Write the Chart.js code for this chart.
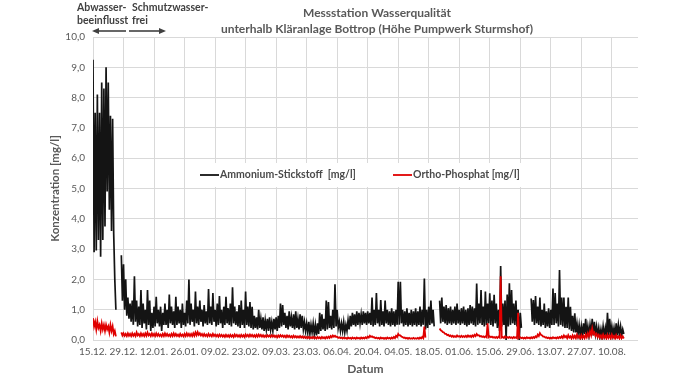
<!DOCTYPE html>
<html><head><meta charset="utf-8">
<script src="https://cdn.jsdelivr.net/npm/chart.js@4/dist/chart.umd.min.js"></script>
<style>html,body{margin:0;padding:0;background:#fff;}#wrap{width:678px;height:381px;}</style>
</head><body><div id="wrap"><canvas id="c" width="678" height="381"></canvas></div>
<script>
// ---- DATA (days counted from 15.12.; one max and one min reading per day) ----
const titleLines = ['Messstation Wasserqualität', 'unterhalb Kläranlage Bottrop (Höhe Pumpwerk Sturmshof)'];
const noteLeft = ['Abwasser-', 'beeinflusst'];
const noteRight = ['Schmutzwasser-', 'frei'];
const xTickLabels = ['15.12.','29.12.','12.01.','26.01.','09.02.','23.02.','09.03.','23.03.','06.04.','20.04.','04.05.','18.05.','01.06.','15.06.','29.06.','13.07.','27.07.','10.08.'];
const yTickValues = [0,1,2,3,4,5,6,7,8,9,10];
const seriesNames = ['Ammonium-Stickstoff  [mg/l]', 'Ortho-Phosphat [mg/l]'];

const nh4Max = [
9.25,7.5,8.1,7.5,8.5,8.3,9.0,8.5,7.4,7.3,
2.0,null,null,2.8,2.5,2.0,1.4,1.2,1.3,2.1,
1.3,1.1,1.65,1.2,1.0,1.65,1.3,0.9,1.1,1.43,
1.0,1.1,0.9,1.2,1.0,1.5,1.1,0.95,1.43,1.1,
1.0,1.2,0.9,1.3,2.0,1.2,1.0,1.6,1.1,1.3,
1.0,1.15,0.95,1.68,1.1,1.55,1.0,1.2,1.45,1.0,
1.1,1.43,1.05,1.2,1.74,1.1,0.95,1.15,1.3,1.0,
1.6,1.1,1.25,1.1,0.8,0.75,1.0,0.7,0.75,0.65,
0.7,0.75,0.6,0.7,0.75,0.8,1.2,1.15,0.9,0.8,
0.95,0.75,0.85,0.95,0.7,0.85,0.8,0.6,0.55,0.6,
0.5,0.55,0.5,0.55,0.9,0.85,0.7,1.3,1.25,0.8,
1.0,1.84,1.0,0.6,0.55,0.6,0.5,0.65,0.8,0.9,
0.85,0.95,0.9,0.85,0.95,0.9,0.95,0.9,1.4,1.0,
1.55,1.0,1.32,0.95,1.3,1.0,0.95,1.05,0.95,1.0,
1.92,1.92,1.0,0.95,1.05,0.9,1.0,0.95,1.05,0.95,
1.1,1.0,2.03,1.0,1.1,1.3,1.0,null,null,1.3,
1.4,1.1,1.15,1.05,1.1,1.0,1.1,1.2,1.0,1.05,
1.1,1.0,1.05,1.15,1.1,1.05,1.86,1.2,1.65,1.1,
1.6,1.2,1.54,1.3,1.49,1.2,1.0,2.44,1.2,1.3,
1.5,1.87,1.65,1.2,1.3,1.0,0.9,null,null,null,
null,1.37,1.32,1.45,1.1,1.4,1.0,1.2,0.95,1.05,
1.0,1.7,1.55,1.2,2.31,1.4,1.4,1.1,1.4,1.1,
0.8,0.88,0.55,0.5,0.45,0.55,0.7,0.45,0.5,0.7,
0.6,0.45,0.4,0.35,0.45,0.4,0.9,0.7,0.45,0.4,
0.55,0.5,0.45,0.35];

const nh4Min = [
2.9,2.95,3.3,2.75,3.3,3.75,4.9,4.3,3.6,3.5,
1.0,null,null,1.3,1.0,0.8,0.7,0.6,0.5,0.6,
0.45,0.5,0.4,0.55,0.35,0.5,0.3,0.4,0.45,0.55,
0.45,0.3,0.5,0.5,0.4,0.55,0.5,0.4,0.5,0.55,
0.4,0.5,0.45,0.55,0.5,0.6,0.45,0.55,0.5,0.6,
0.45,0.55,0.5,0.55,0.5,0.6,0.45,0.5,0.55,0.4,
0.5,0.55,0.5,0.45,0.55,0.5,0.45,0.4,0.5,0.4,
0.5,0.45,0.4,0.35,0.4,0.35,0.4,0.35,0.3,0.35,
0.3,0.35,0.3,0.35,0.3,0.4,0.45,0.5,0.4,0.35,
0.45,0.4,0.35,0.4,0.35,0.4,0.35,0.3,0.25,0.2,
0.25,0.2,0.15,0.2,0.3,0.35,0.3,0.35,0.4,0.35,
0.4,0.45,0.4,0.3,0.3,0.25,0.3,0.35,0.45,0.5,
0.45,0.5,0.55,0.5,0.55,0.5,0.55,0.5,0.45,0.5,
0.55,0.45,0.5,0.45,0.55,0.5,0.45,0.5,0.45,0.5,
0.5,0.55,0.45,0.5,0.45,0.5,0.45,0.5,0.45,0.5,
0.45,0.5,0.35,0.4,0.5,0.55,0.45,null,null,0.55,
0.6,0.55,0.5,0.55,0.5,0.55,0.5,0.55,0.5,0.55,
0.5,0.45,0.5,0.55,0.5,0.45,0.5,0.55,0.5,0.45,
0.5,0.55,0.5,0.45,0.55,0.4,0.3,0.45,0.5,0.0,
0.45,0.5,0.55,0.5,0.45,0.0,0.4,null,null,null,
null,0.6,0.5,0.55,0.5,0.45,0.5,0.4,0.45,0.4,
0.5,0.5,0.55,0.45,0.5,0.45,0.4,0.4,0.35,0.3,
0.25,0.25,0.2,0.15,0.15,0.2,0.15,0.15,0.2,0.15,
0.2,0.15,0.1,0.1,0.15,0.1,0.15,0.2,0.15,0.1,
0.15,0.2,0.15,0.2];

const po4Max = [
0.72,0.6,0.62,0.5,0.55,0.5,0.5,0.45,0.5,0.45,
0.3,null,null,0.25,0.22,0.2,0.22,0.2,0.22,0.2,
0.25,0.2,0.22,0.2,0.22,0.25,0.2,0.22,0.2,0.22,
0.2,0.18,0.2,0.22,0.2,0.18,0.2,0.22,0.2,0.18,
0.2,0.18,0.2,0.22,0.2,0.2,0.22,0.25,0.26,0.22,
0.2,0.2,0.18,0.2,0.18,0.2,0.18,0.17,0.18,0.17,
0.16,0.17,0.16,0.17,0.16,0.18,0.17,0.16,0.17,0.16,
0.18,0.17,0.18,0.17,0.16,0.17,0.18,0.17,0.16,0.15,
0.16,0.15,0.16,0.15,0.14,0.15,0.16,0.15,0.14,0.15,
0.14,0.13,0.14,0.13,0.12,0.13,0.12,0.11,0.1,0.1,
0.09,0.1,0.09,0.1,0.09,0.1,0.09,0.1,0.11,0.13,
0.15,0.14,0.11,0.09,0.08,0.08,0.07,0.08,0.07,0.08,
0.07,0.08,0.07,0.08,0.08,0.09,0.11,0.14,0.12,0.09,
0.08,0.07,0.08,0.07,0.07,0.08,0.07,0.08,0.1,0.14,
0.2,0.15,0.1,0.08,0.07,0.07,0.06,0.07,0.06,0.07,
0.08,0.1,0.44,null,null,null,null,null,null,0.38,
0.3,0.25,0.2,0.17,0.15,0.14,0.13,0.15,0.13,0.14,
0.13,0.14,0.15,0.14,0.15,0.17,0.2,0.16,0.13,0.12,
0.12,0.55,0.12,0.11,0.1,0.1,0.11,2.1,0.1,0.12,
0.1,0.1,0.09,0.1,0.09,0.9,0.09,0.08,0.08,0.09,
0.08,0.09,0.1,0.12,0.18,0.23,0.15,0.11,0.09,0.08,
0.08,0.09,0.08,0.09,0.1,0.12,0.15,0.13,0.16,0.12,
0.15,0.14,0.18,0.13,0.16,0.14,0.18,0.22,0.28,0.38,
0.25,0.2,0.17,0.15,0.18,0.14,0.17,0.15,0.18,0.13,
0.16,0.12,0.15,0.12];

const po4Min = [
0.45,0.35,0.4,0.3,0.35,0.3,0.35,0.25,0.3,0.2,
0.12,null,null,0.15,0.14,0.13,0.14,0.13,0.14,0.13,
0.15,0.13,0.14,0.13,0.14,0.15,0.13,0.14,0.13,0.14,
0.13,0.12,0.13,0.14,0.13,0.12,0.13,0.14,0.13,0.12,
0.13,0.12,0.13,0.14,0.13,0.13,0.14,0.16,0.17,0.15,
0.13,0.13,0.12,0.13,0.12,0.13,0.12,0.11,0.12,0.11,
0.1,0.11,0.1,0.11,0.1,0.12,0.11,0.1,0.11,0.1,
0.12,0.11,0.12,0.11,0.1,0.11,0.12,0.11,0.1,0.1,
0.11,0.1,0.11,0.1,0.09,0.1,0.11,0.1,0.09,0.1,
0.09,0.08,0.09,0.08,0.08,0.08,0.07,0.07,0.06,0.06,
0.06,0.06,0.05,0.06,0.05,0.06,0.05,0.06,0.07,0.09,
0.11,0.1,0.07,0.06,0.05,0.05,0.04,0.05,0.04,0.05,
0.04,0.05,0.04,0.05,0.05,0.06,0.08,0.1,0.09,0.06,
0.05,0.04,0.05,0.04,0.04,0.05,0.04,0.05,0.06,0.1,
0.15,0.11,0.07,0.05,0.04,0.04,0.04,0.04,0.04,0.04,
0.05,0.06,0.08,null,null,null,null,null,null,0.32,
0.26,0.2,0.16,0.13,0.11,0.1,0.1,0.11,0.1,0.1,
0.1,0.1,0.11,0.1,0.11,0.13,0.15,0.12,0.1,0.09,
0.09,0.09,0.09,0.08,0.07,0.07,0.08,0.08,0.07,0.08,
0.07,0.07,0.06,0.07,0.06,0.07,0.06,0.05,0.05,0.06,
0.05,0.06,0.07,0.09,0.13,0.17,0.11,0.08,0.06,0.05,
0.05,0.06,0.05,0.06,0.07,0.07,0.09,0.06,0.08,0.05,
0.07,0.06,0.08,0.05,0.07,0.06,0.09,0.12,0.16,0.2,
0.14,0.1,0.08,0.06,0.08,0.05,0.07,0.06,0.08,0.05,
0.07,0.05,0.06,0.05];

// build {x,y} points: the day's max reading first, then its min half a day later
function buildPoints(maxArr, minArr) {
  const pts = [];
  maxArr.forEach((v, day) => {
    pts.push({x: day, y: v});
    pts.push({x: day + 0.5, y: minArr[day]});
  });
  return pts;
}

const FONT = 'Lato, "Open Sans", sans-serif';
const GRAY = '#595959';

const overlay = {
  id: 'overlay',
  afterDraw(chart) {
    const ctx = chart.ctx;
    ctx.save();
    ctx.fillStyle = GRAY;
    ctx.textAlign = 'center';
    ctx.textBaseline = 'middle';
    ctx.font = 'bold 12px ' + FONT;
    ctx.fillText(titleLines[0], 377, 13);
    ctx.fillText(titleLines[1], 377, 29);
    ctx.fillStyle = '#404040';
    ctx.textAlign = 'left';
    ctx.font = 'bold 10.5px ' + FONT;
    ctx.fillText(noteLeft[0], 77, 8);
    ctx.fillText(noteLeft[1], 77, 21);
    ctx.fillText(noteRight[0], 132, 8);
    ctx.fillText(noteRight[1], 132, 21);
    ctx.strokeStyle = '#404040';
    ctx.fillStyle = '#404040';
    ctx.lineWidth = 1.6;
    ctx.beginPath(); ctx.moveTo(126, 31); ctx.lineTo(97, 31); ctx.stroke();
    ctx.beginPath(); ctx.moveTo(92, 31); ctx.lineTo(99, 28); ctx.lineTo(99, 34); ctx.closePath(); ctx.fill();
    ctx.beginPath(); ctx.moveTo(129, 31); ctx.lineTo(161, 31); ctx.stroke();
    ctx.beginPath(); ctx.moveTo(166, 31); ctx.lineTo(159, 28); ctx.lineTo(159, 34); ctx.closePath(); ctx.fill();
    ctx.fillStyle = '#ffffff';
    ctx.fillRect(186, 163, 356, 24);
    const starts = [200, 393];
    ctx.font = 'bold 10.5px ' + FONT;
    ctx.textBaseline = 'middle';
    chart.data.datasets.forEach((ds, i) => {
      const x0 = starts[i];
      ctx.strokeStyle = ds.borderColor;
      ctx.lineWidth = 1.8;
      ctx.beginPath(); ctx.moveTo(x0, 175); ctx.lineTo(x0 + 19, 175); ctx.stroke();
      ctx.fillStyle = '#4a4a4a';
      ctx.fillText(ds.label, x0 + 20, 175);
    });
    ctx.restore();
  }
};

new Chart(document.getElementById('c'), {
  type: 'line',
  data: {
    datasets: [
      { label: seriesNames[0], data: buildPoints(nh4Max, nh4Min), borderColor: '#141414', borderWidth: 1.7, pointRadius: 0, tension: 0, spanGaps: false, order: 2 },
      { label: seriesNames[1], data: buildPoints(po4Max, po4Min), borderColor: '#e00000', borderWidth: 1.8, pointRadius: 0, tension: 0, spanGaps: false, order: 1 }
    ]
  },
  options: {
    responsive: false,
    animation: false,
    devicePixelRatio: 1,
    layout: { padding: { left: 0, right: 40, top: 37, bottom: 0 } },
    plugins: { legend: { display: false }, tooltip: { enabled: false }, title: { display: false } },
    scales: {
      x: {
        type: 'linear',
        min: 0, max: 250,
        afterFit(s) { s.height = 41; },
        afterBuildTicks(s) { s.ticks = xTickLabels.map((_, i) => ({ value: i * 14 })); },
        grid: { color: '#d9d9d9', lineWidth: 1, drawTicks: false },
        border: { display: false },
        ticks: { padding: 6, color: GRAY, font: { family: FONT, size: 10 }, maxRotation: 0, autoSkip: false,
                 callback: (v, i) => xTickLabels[i] },
        title: { display: true, text: 'Datum', color: GRAY, font: { family: FONT, size: 12, weight: 'bold' }, padding: { top: 0, bottom: 5 } }
      },
      y: {
        min: 0, max: 10,
        afterFit(s) { s.width = 93; },
        afterBuildTicks(s) { s.ticks = yTickValues.map(v => ({ value: v })); },
        grid: { color: '#d9d9d9', lineWidth: 1, drawTicks: false },
        border: { display: false },
        ticks: { padding: 8, color: GRAY, font: { family: FONT, size: 10 },
                 callback: v => v.toFixed(1).replace('.', ',') },
        title: { display: true, text: 'Konzentration [mg/l]', color: GRAY, font: { family: FONT, size: 11.5, weight: 'bold' }, padding: { top: 48, bottom: 0 } }
      }
    }
  },
  plugins: [overlay]
});
</script></body></html>
